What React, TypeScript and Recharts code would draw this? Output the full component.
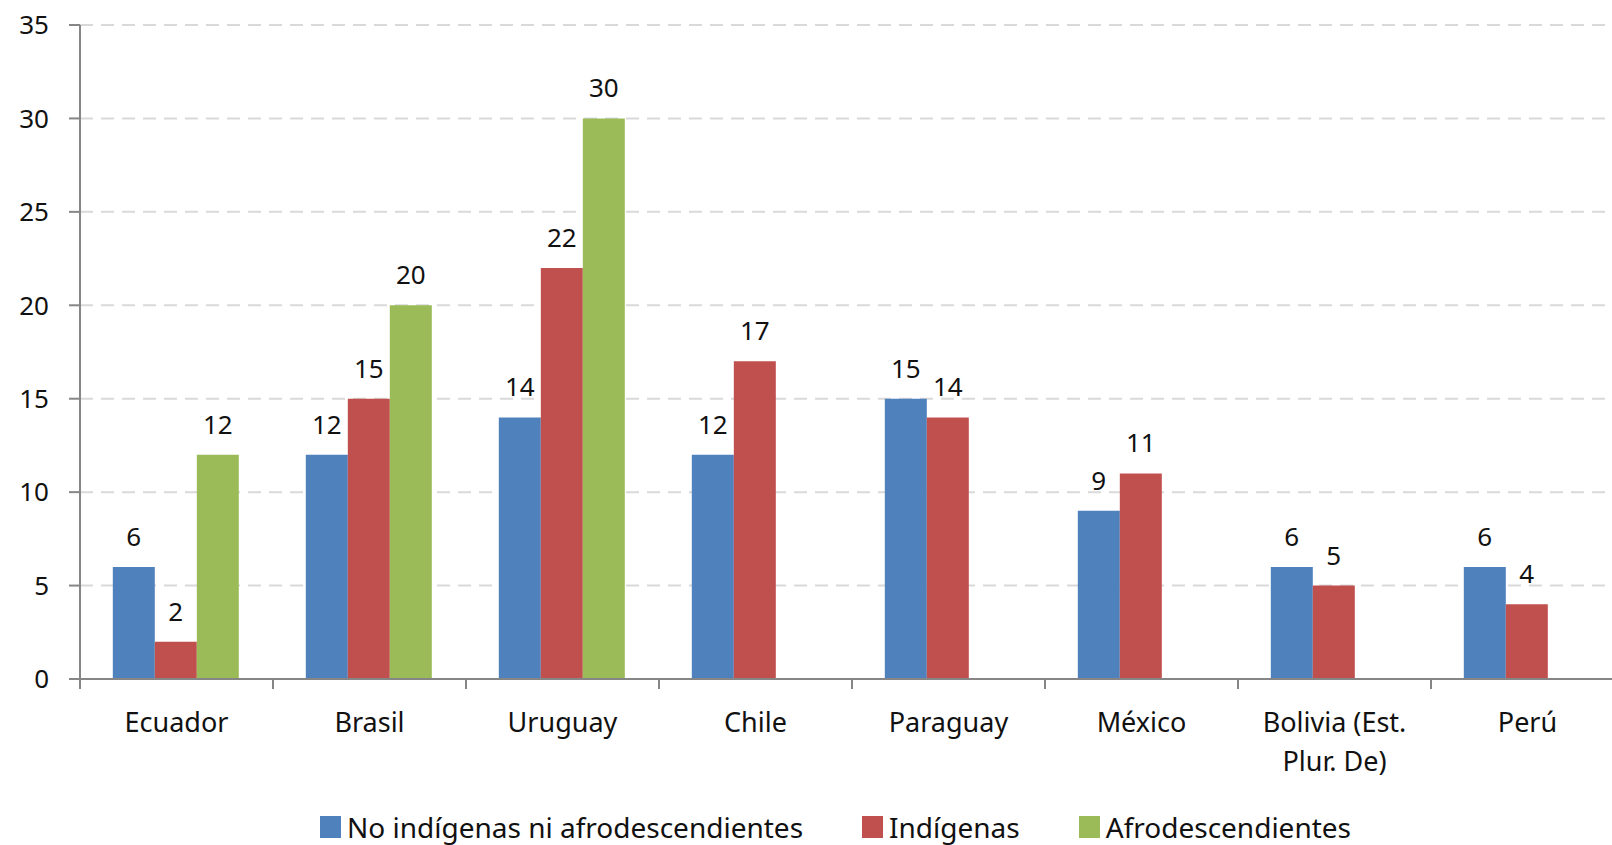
import { BarChart, Bar, XAxis, YAxis, CartesianGrid, Legend, LabelList } from 'recharts';

const countries = ['Ecuador', 'Brasil', 'Uruguay', 'Chile', 'Paraguay', 'México', 'Bolivia (Est. Plur. De)', 'Perú'];
const noIndigenas = [6, 12, 14, 12, 15, 9, 6, 6];
const indigenas = [2, 15, 22, 17, 14, 11, 5, 4];
const afrodescendientes = [12, 20, 30, null, null, null, null, null];
const yTicks = [0, 5, 10, 15, 20, 25, 30, 35];

const seriesKeys = ['noInd', 'ind', 'afro'];
const seriesNames: Record<string, string> = {
  noInd: 'No indígenas ni afrodescendientes',
  ind: 'Indígenas',
  afro: 'Afrodescendientes',
};

const data = countries.map((c, i) => ({
  country: c,
  noInd: noIndigenas[i],
  ind: indigenas[i],
  afro: afrodescendientes[i],
}));

const FONT = '"Noto Sans", sans-serif';
const TEXT = '#111';
const AXIS = '#868686';
const CHART_W = 1624;
const AXIS_W = 80;
const BAND = (CHART_W - AXIS_W) / countries.length;

// split long category names into two lines, Excel style
function wrap(label: string, max = 13) {
  const lines: string[] = [];
  let cur = '';
  for (const w of label.split(' ')) {
    const next = cur ? cur + ' ' + w : w;
    if (next.length > max && cur) {
      lines.push(cur);
      cur = w;
    } else cur = next;
  }
  if (cur) lines.push(cur);
  return lines;
}

function CountryTick(props: any) {
  const { x, y, payload } = props;
  const lines = wrap(String(payload.value));
  return (
    <g>
      <line x1={x - BAND / 2} x2={x - BAND / 2} y1={y} y2={y + 10} stroke={AXIS} strokeWidth={2} />
      {lines.map((l, i) => (
        <text key={i} x={x} y={y + 53 + i * 39} textAnchor="middle" fontSize={27} fill={TEXT} fontFamily={FONT}>
          {l}
        </text>
      ))}
    </g>
  );
}

function LegendContent(props: any) {
  const items = [...(props.payload || [])].sort(
    (a: any, b: any) => seriesKeys.indexOf(a.dataKey) - seriesKeys.indexOf(b.dataKey)
  );
  return (
    <div style={{ display: 'flex', justifyContent: 'center', paddingLeft: 47, paddingTop: 4, fontFamily: FONT }}>
      {items.map((p: any, i: number) => (
        <div key={i} style={{ display: 'flex', alignItems: 'center', marginLeft: i ? 59 : 0 }}>
          <span style={{ width: 21, height: 22, background: p.color, marginRight: 6, display: 'inline-block' }} />
          <span style={{ fontSize: 28, color: TEXT, lineHeight: '28px' }}>{p.value}</span>
        </div>
      ))}
    </div>
  );
}

const fmt = (v: any) => (v == null ? '' : v);

export default function App() {
  return (
    <div style={{ position: 'absolute', left: 0, top: 0, width: 1612, height: 845, overflow: 'hidden', background: '#fff' }}>
      <BarChart
        width={CHART_W}
        height={845}
        data={data}
        margin={{ top: 25, right: 0, bottom: 0, left: 0 }}
        barGap={0}
        barCategoryGap="17%"
      >
        <CartesianGrid vertical={false} stroke="#d9d9d9" strokeWidth={2} strokeDasharray="13 8" />
        <XAxis
          dataKey="country"
          height={130}
          interval={0}
          tickLine={false}
          tickSize={0}
          tickMargin={0}
          axisLine={{ stroke: AXIS, strokeWidth: 2 }}
          tick={(p: any) => <CountryTick {...p} />}
        />
        <YAxis
          width={AXIS_W}
          domain={[0, 35]}
          ticks={yTicks}
          interval={0}
          tickSize={11}
          tickMargin={20}
          axisLine={{ stroke: AXIS, strokeWidth: 2 }}
          tickLine={{ stroke: AXIS, strokeWidth: 2 }}
          tick={{ fontSize: 26, fill: TEXT, fontFamily: FONT }}
        />
        <Legend verticalAlign="bottom" height={36} content={(p: any) => <LegendContent {...p} />} />
        <Bar dataKey="noInd" name={seriesNames.noInd} fill="#4F81BD" isAnimationActive={false}>
          <LabelList dataKey="noInd" position="top" offset={21} fill={TEXT} fontSize={26} fontFamily={FONT} formatter={fmt} />
        </Bar>
        <Bar dataKey="ind" name={seriesNames.ind} fill="#C0504D" isAnimationActive={false}>
          <LabelList dataKey="ind" position="top" offset={21} fill={TEXT} fontSize={26} fontFamily={FONT} formatter={fmt} />
        </Bar>
        <Bar dataKey="afro" name={seriesNames.afro} fill="#9BBB59" isAnimationActive={false}>
          <LabelList dataKey="afro" position="top" offset={21} fill={TEXT} fontSize={26} fontFamily={FONT} formatter={fmt} />
        </Bar>
      </BarChart>
    </div>
  );
}
